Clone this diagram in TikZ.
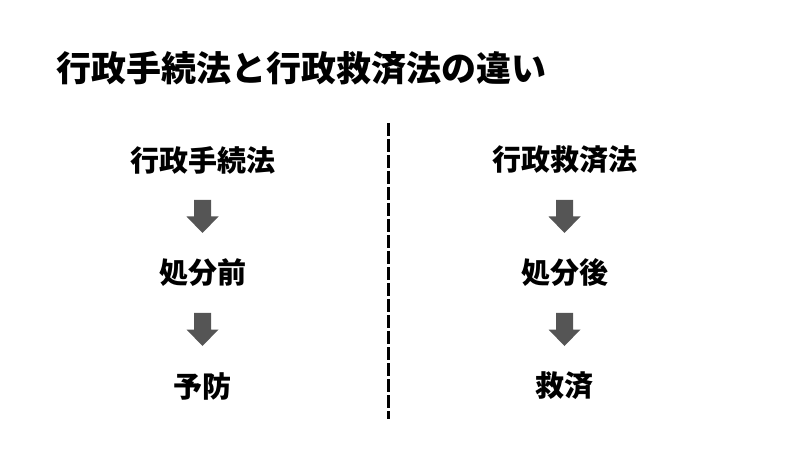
\documentclass[tikz,border=0pt]{standalone}
\usepackage{fontspec}
\setmainfont{Noto Sans CJK JP}
\usetikzlibrary{calc}
\definecolor{arrowgray}{HTML}{555555}

\begin{document}
\begin{tikzpicture}[x=1pt,y=1pt,
  head/.style={font=\fontsize{29}{35}\selectfont\bfseries},
  title/.style={font=\fontsize{35}{42}\selectfont\bfseries, anchor=west},
  downarrow/.pic={\fill[arrowgray] (-8.5,16.5) -- (8.5,16.5) -- (8.5,0) -- (16,0) -- (0,-16.5) -- (-16,0) -- (-8.5,0) -- cycle;}]

\useasboundingbox (0,0) rectangle (800,450);

\node[title] (t) at (52.5,381.5) {行政手続法と行政救済法の違い};

\node[head] (v1) at (202.5,290) {行政手続法};
\node[head] (v2) at (202.5,177) {処分前};
\node[head] (v3) at (202.5,64) {予防};

\node[head] (v4) at (564.5,290) {行政救済法};
\node[head] (v5) at (564.5,177) {処分後};
\node[head] (v6) at (564.5,64) {救済};

\pic at ($(v1)!0.5!(v2)$) {downarrow};
\pic at ($(v2)!0.5!(v3)$) {downarrow};
\pic at ($(v4)!0.5!(v5)$) {downarrow};
\pic at ($(v5)!0.5!(v6)$) {downarrow};

\coordinate (d1) at (388.7,327);
\coordinate (d2) at (388.7,31);
\draw [line width=3.5pt, dash pattern=on 12.7pt off 3.3pt] (d1) -- (d2);

\end{tikzpicture}
\end{document}
